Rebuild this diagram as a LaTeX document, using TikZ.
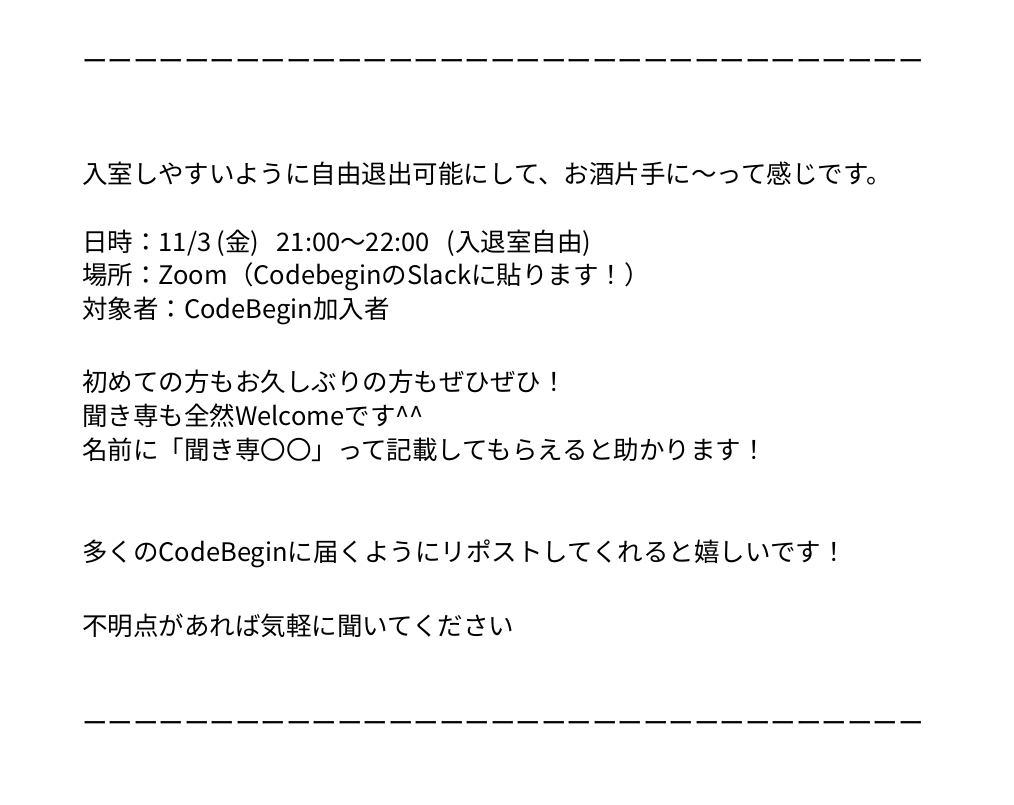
\documentclass[tikz,border=0pt]{standalone}
\usepackage{fontspec}
\setmainfont{Noto Sans CJK JP}
\begin{document}
\begin{tikzpicture}[x=1pt,y=-1pt,txt/.style={anchor=west,inner sep=0pt,font=\fontsize{25.5}{28}\selectfont}]
\useasboundingbox[fill=white] (0,0) rectangle (1014,804);
\node[txt] (d1) at (82,65) {ーーーーーーーーーーーーーーーーーーーーーーーーーーーーーーーーー};
\node[txt] (l1) at (82,174) {入室しやすいように自由退出可能にして、お酒片手に〜って感じです。};
\node[txt] (l2) at (82,243) {日時：11/3 (金)\ \ \ 21:00〜22:00\ \ \ (入退室自由)};
\node[txt] (l3) at (82,277) {場所：Zoom（CodebeginのSlackに貼ります！）};
\node[txt] (l4) at (82,311) {対象者：CodeBegin加入者};
\node[txt] (l5) at (82,382) {初めての方もお久しぶりの方もぜひぜひ！};
\node[txt] (l6) at (82,416) {聞き専も全然Welcomeです\textasciicircum\textasciicircum};
\node[txt] (l7) at (82,450) {名前に「聞き専〇〇」って記載してもらえると助かります！};
\node[txt] (l8) at (82,554) {多くのCodeBeginに届くようにリポストしてくれると嬉しいです！};
\node[txt] (l9) at (82,626) {不明点があれば気軽に聞いてください};
\node[txt] (d2) at (82,727) {ーーーーーーーーーーーーーーーーーーーーーーーーーーーーーーーーー};
\end{tikzpicture}
\end{document}
